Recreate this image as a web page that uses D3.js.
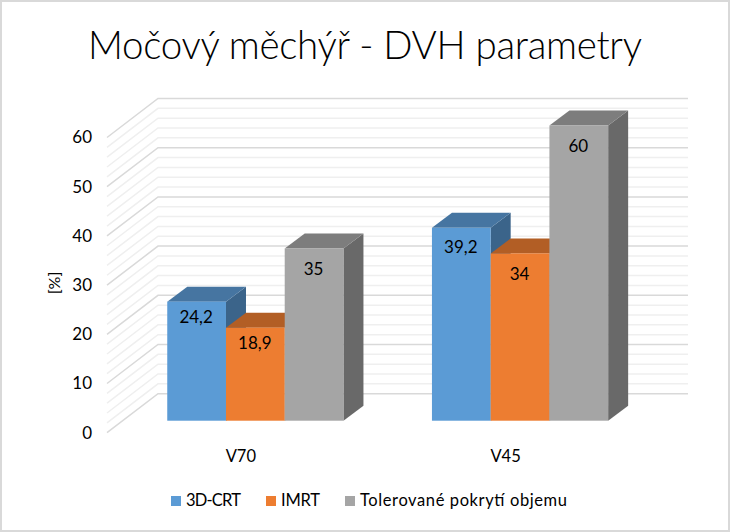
<!DOCTYPE html>
<html><head><meta charset="utf-8">
<script src="https://cdnjs.cloudflare.com/ajax/libs/d3/7.8.5/d3.min.js"></script>
<style>html,body{margin:0;padding:0;background:#fff}svg{display:block}text{font-family:Lato,"Open Sans",sans-serif;fill:#000}</style>
</head><body><svg id="c" width="730" height="532"></svg>
<script>
const title = "Močový měchýř - DVH parametry";
const yTitle = "[%]";
const categories = ["V70", "V45"];
const seriesNames = ["3D-CRT", "IMRT", "Tolerované pokrytí objemu"];
const crt = [24.2, 39.2];
const imrt = [18.9, 34];
const tolerated = [35, 60];
const yTicks = [0, 10, 20, 30, 40, 50, 60];
const minorTicks = d3.range(0, 61, 2);
const labelText = v => String(v).replace(".", ",");

const seriesValues = [crt, imrt, tolerated];
const faceColors = ["#5b9bd5", "#ed7d31", "#a5a5a5"];
const topColors = ["#4675a1", "#b25e25", "#7d7d7d"];
const sideColors = ["#3b648a", "#984f1f", "#696969"];
const labelNudge = [[15, 19], [15, 21], [21, 21]]; // px below bar top, per series/category

const svg = d3.select("#c");
svg.append("rect").attr("x",1).attr("y",1).attr("width",728).attr("height",530)
  .attr("fill","#fff").attr("stroke","#d9d9d9").attr("stroke-width",2);

const wall = d3.scaleLinear().domain([0,60]).range([393.7,98.5]);
const wallDx = 51, wallDy = 39, wallLeft = 158, wallRight = 688;
const barBase = 420.7, unit = wall(0) - wall(1);
const barY = v => barBase - unit * v;
const depthX = 20, depthY = 15;

const gGrid = svg.append("g");
minorTicks.forEach(t => {
  const major = t % 10 === 0, c = major ? "#d9d9d9" : "#efefef";
  gGrid.append("path").attr("fill","none").attr("stroke",c).attr("stroke-width",1.5)
    .attr("d",`M${wallLeft-wallDx},${wall(t)+wallDy}L${wallLeft},${wall(t)}L${wallRight},${wall(t)}`);
});

const xCat = d3.scaleBand().domain(categories).range([123,652.4]);
const xSer = d3.scaleBand().domain(seriesNames).range([0,176.2]);
const catStart = c => xCat(c) + (xCat.bandwidth()-176.2)/2;

seriesNames.forEach((s,si) => {
  categories.forEach((c,ci) => {
    const v = seriesValues[si][ci];
    const x0 = catStart(c)+xSer(s), x1 = x0+xSer.bandwidth(), yt = barY(v);
    const g = svg.append("g");
    g.append("path").attr("fill",sideColors[si])
      .attr("d",`M${x1},${yt}L${x1+depthX},${yt-depthY}L${x1+depthX},${barBase-depthY}L${x1},${barBase}Z`);
    g.append("path").attr("fill",topColors[si])
      .attr("d",`M${x0},${yt}L${x0+depthX},${yt-depthY}L${x1+depthX},${yt-depthY}L${x1},${yt}Z`);
    g.append("rect").attr("x",x0).attr("y",yt).attr("width",x1-x0).attr("height",barBase-yt).attr("fill",faceColors[si]);
  });
});
seriesNames.forEach((s,si) => {
  categories.forEach((c,ci) => {
    const v = seriesValues[si][ci];
    svg.append("text").attr("x",catStart(c)+xSer(s)+xSer.bandwidth()/2-0.5)
      .attr("y",barY(v)+labelNudge[si][ci]).attr("dy","0.35em")
      .attr("text-anchor","middle").attr("font-size",17).text(labelText(v));
  });
});

yTicks.forEach(t => svg.append("text").attr("x",92).attr("y",wall(t)+wallDy).attr("dy","0.35em")
  .attr("text-anchor","end").attr("font-size",17).text(t));
svg.append("text").attr("transform","translate(54,283) rotate(-90)").attr("dy","0.35em")
  .attr("text-anchor","middle").attr("font-size",16).text(yTitle);
categories.forEach(c => svg.append("text").attr("x",xCat(c)+xCat.bandwidth()/2-14.5).attr("y",456).attr("dy","0.35em")
  .attr("text-anchor","middle").attr("font-size",16.5).text(c));

svg.append("text").attr("x",365).attr("y",46).attr("dy","0.35em").attr("text-anchor","middle")
  .attr("font-size",38.5).attr("font-weight",300).attr("textLength",554).text(title);

const legendX = [171,266,345], legendLen = [55,39,207];
seriesNames.forEach((s,i) => {
  svg.append("rect").attr("x",legendX[i]).attr("y",496).attr("width",10).attr("height",10).attr("fill",faceColors[i]);
  svg.append("text").attr("x",legendX[i]+15).attr("y",500.5).attr("dy","0.35em").attr("font-size",16.5)
    .attr("textLength",legendLen[i]).text(s);
});
</script></body></html>
